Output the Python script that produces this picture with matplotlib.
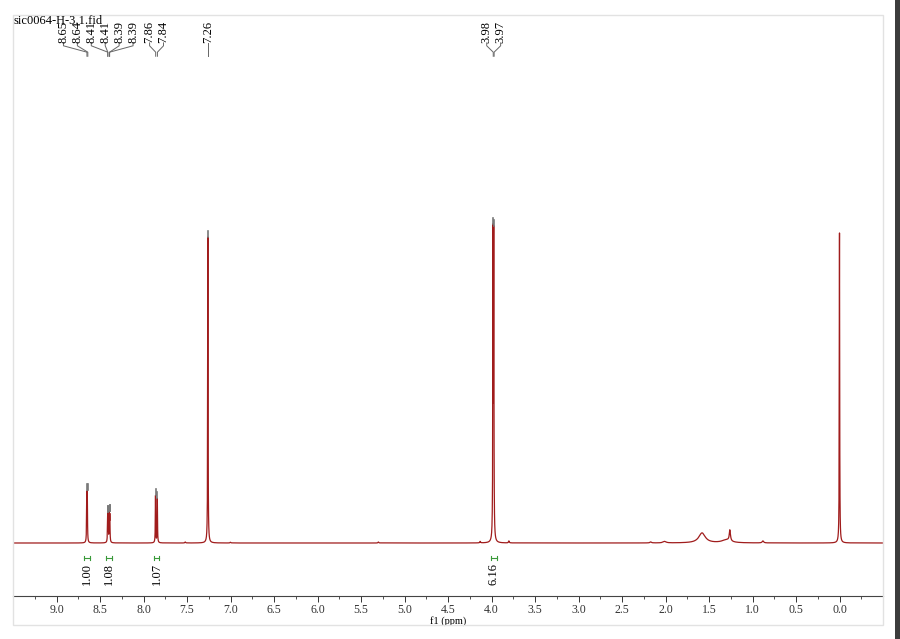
import numpy as np
import matplotlib.pyplot as plt
from matplotlib.patches import Rectangle
from matplotlib.ticker import FixedLocator, FormatStrFormatter

plt.rcParams['font.family'] = ['Liberation Serif', 'DejaVu Serif']

title = "sic0064-H-3.1.fid"

# peak list: shift (ppm), height, half width (ppm)
peak_ppm = [8.652, 8.646, 8.412, 8.406, 8.393, 8.387, 7.862, 7.841, 7.26,
            3.983, 3.974, 0.0, 1.58, 1.26, 1.30, 2.17, 2.01, 0.88, 3.80,
            4.13, 5.30, 7.52, 7.00]
peak_height = [44, 46, 24, 26, 27, 25, 47, 44, 306,
               298, 296, 310, 10, 11, 3, 1.0, 1.5, 2.0, 2.0,
               1.5, 1.0, 1.0, 0.8]
peak_width = [0.0025, 0.0025, 0.0025, 0.0025, 0.0025, 0.0025, 0.0025, 0.0025, 0.0025,
              0.0025, 0.0025, 0.0025, 0.045, 0.008, 0.06, 0.01, 0.02, 0.01, 0.005,
              0.005, 0.005, 0.005, 0.005]

# peak picking labels
pick_ppm = [8.65, 8.64, 8.41, 8.41, 8.39, 8.39, 7.86, 7.84, 7.26, 3.98, 3.97]

# integrals
integ_from = [8.68, 8.43, 7.88, 4.01]
integ_to = [8.62, 8.36, 7.82, 3.94]
integ_value = [1.00, 1.08, 1.07, 6.16]

# axis ticks
major_ticks = [9.0, 8.5, 8.0, 7.5, 7.0, 6.5, 6.0, 5.5, 5.0, 4.5, 4.0,
               3.5, 3.0, 2.5, 2.0, 1.5, 1.0, 0.5, 0.0]
minor_ticks = [9.25, 8.75, 8.25, 7.75, 7.25, 6.75, 6.25, 5.75, 5.25, 4.75, 4.25,
               3.75, 3.25, 2.75, 2.25, 1.75, 1.25, 0.75, 0.25, -0.25]

ppm = np.linspace(-0.5, 9.5, 40001)
spec = np.zeros_like(ppm)
for p, h, w in zip(peak_ppm, peak_height, peak_width):
    spec += h / (1 + ((ppm - p) / w) ** 2)

fig = plt.figure(figsize=(9, 6.39), dpi=100)
ax = fig.add_axes([13/900, (639-596)/639, 870/900, 581/639])

ax.plot(ppm, spec, color='#a01c1c', lw=0.9)
ax.set_xlim(9.5, -0.5)
ax.set_ylim(-53, 528)

for s in ['top', 'left', 'right']:
    ax.spines[s].set_visible(False)
ax.spines['bottom'].set_color('#444444')
ax.spines['bottom'].set_linewidth(0.8)
ax.set_yticks([])
ax.xaxis.set_major_locator(FixedLocator(major_ticks))
ax.xaxis.set_minor_locator(FixedLocator(minor_ticks))
ax.xaxis.set_major_formatter(FormatStrFormatter('%.1f'))
ax.tick_params(axis='x', which='major', length=4, width=0.7, labelsize=8.5, pad=2, colors='#333333')
ax.tick_params(axis='x', which='minor', length=2, width=0.6, colors='#333333')
ax.set_xlabel("f1 (ppm)", fontsize=7.5, labelpad=0)

# gray markers at picked peak tops
for p in pick_ppm:
    i = np.argmin(np.abs(ppm - p))
    top = spec[max(i - 40, 0):i + 40].max()
    ax.plot([p, p], [top, top + 6], color='#777777', lw=1.2)

# spread labels over clusters
gap = 0.16
groups = [[p] for p in pick_ppm]
while True:
    pos = []
    for g in groups:
        c = (g[0] + g[-1]) / 2
        pos.append([c + gap * (len(g) - 1) / 2 - gap * k for k in range(len(g))])
    merged = False
    for k in range(len(groups) - 1):
        if pos[k][-1] - pos[k + 1][0] < gap:
            groups[k] = groups[k] + groups.pop(k + 1)
            merged = True
            break
    if not merged:
        break
label_x = [x for ps in pos for x in ps]

trans = ax.get_xaxis_transform()
for p, lx in zip(pick_ppm, label_x):
    ax.text(lx, 0.952, f"{p:.2f}", rotation=90, ha='center', va='bottom',
            fontsize=9, transform=trans)
    ax.plot([lx, lx, p, p], [0.952, 0.947, 0.936, 0.929], color='#666666',
            lw=0.7, transform=trans)

for a, b, v in zip(integ_from, integ_to, integ_value):
    ax.plot([a, b], [-15, -15], color='#3a9a3a', lw=0.8)
    ax.plot([a, a], [-17, -13], color='#3a9a3a', lw=0.8)
    ax.plot([b, b], [-17, -13], color='#3a9a3a', lw=0.8)
    ax.text((a + b) / 2, -20, f"{v:.2f}", rotation=90, ha='center', va='top', fontsize=9)

fig.text(13/900, 1 - 15/639, title, ha='left', va='top', fontsize=9)

# outer frame and window edge
fig.patches.append(Rectangle((13/900, 14/639), 870/900, 610/639, transform=fig.transFigure,
                             fill=False, edgecolor='#e2e2e2', lw=1))
fig.patches.append(Rectangle((895/900, 0), 5/900, 1, transform=fig.transFigure,
                             color='#3c3c3c', lw=0))

fig.savefig("out.png", dpi=100)
